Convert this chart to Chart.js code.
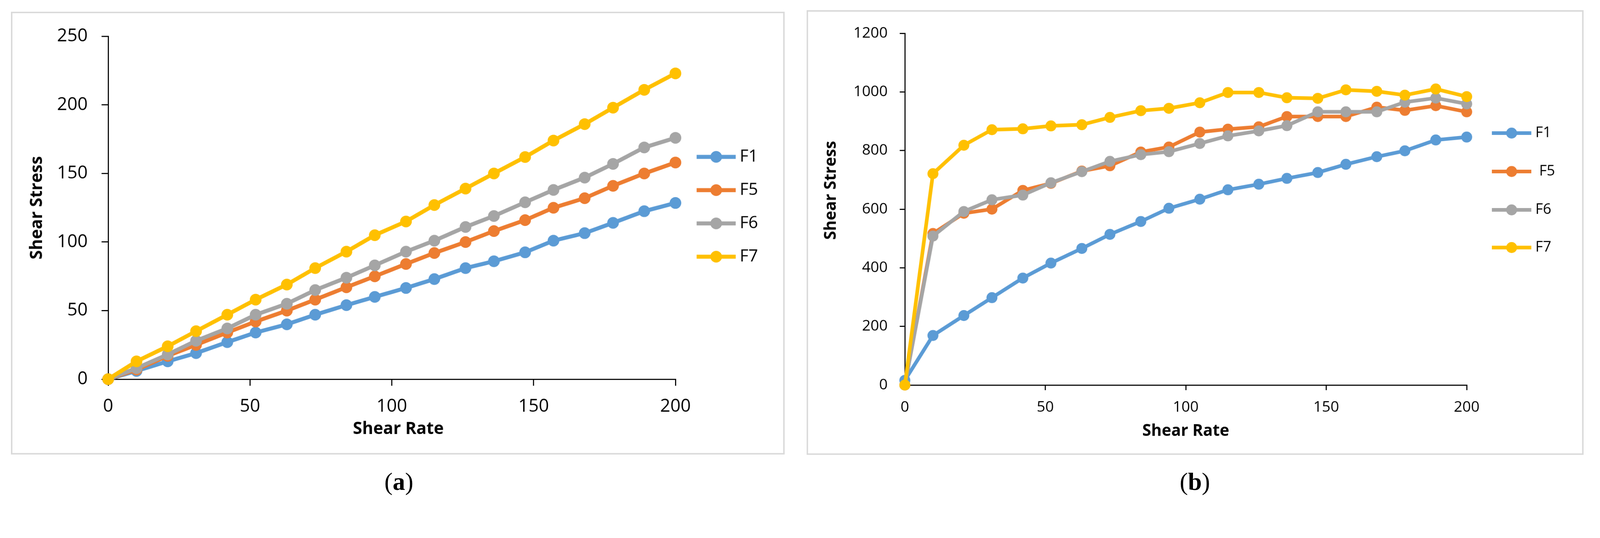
<!DOCTYPE html>
<html>
<head>
<meta charset="utf-8">
<script src="https://cdn.jsdelivr.net/npm/chart.js@4.4.1/dist/chart.umd.min.js"></script>
<style>
html,body{margin:0;padding:0;background:#fff;overflow:hidden;}
#stage{position:absolute;left:0;top:0;width:4380px;height:1376px;transform-origin:0 0;background:#fff;}
.panel{position:absolute;box-sizing:border-box;border:4px solid #d9d9d9;pointer-events:none;}
canvas{position:absolute;}
.cap{position:absolute;font-family:"Liberation Serif","DejaVu Serif",serif;font-size:68px;line-height:80px;width:200px;text-align:center;color:#000;}
.cap b{font-weight:bold;}
</style>
</head>
<body>
<div id="stage">
<canvas id="chartA" width="2118" height="1211" style="left:30px;top:32px;width:2118px;height:1211px;"></canvas>
<div class="panel" style="left:30px;top:32px;width:2118px;height:1211px;"></div>
<canvas id="chartB" width="2127" height="1216" style="left:2208px;top:28px;width:2127px;height:1216px;"></canvas>
<div class="panel" style="left:2208px;top:28px;width:2127px;height:1216px;"></div>
<div class="cap" style="left:992px;top:1277px;">(<b>a</b>)</div>
<div class="cap" style="left:3171px;top:1277px;">(<b>b</b>)</div>
</div>
<script>
// ---------- data ----------
const shearRate = [0,10,21,31,42,52,63,73,84,94,105,115,126,136,147,157,168,178,189,200];

const seriesNamesA = ['F1','F5','F6','F7'];
const seriesNamesB = ['F1',' F5','F6','F7'];

// panel (a)
const a_F1 = [0,6,13,19,27,34,40,47,54,60,66.5,73,81,86,92.5,101,106.5,114,122.5,128.5];
const a_F5 = [0,7,17,25,34,42,50,58,67,75,84,92,100,108,116,125,132,141,150,158];
const a_F6 = [0,8,18,28,37,47,55,65,74,83,93,101,111,119,129,138,147,157,169,176];
const a_F7 = [0,13,24,35,47,58,69,81,93,105,115,127,139,150,162,174,186,198,211,223];

// panel (b)
const b_F1 = [16,169,237,298,365,416,466,514,558,603,634,666,685,705,725,753,779,799,836,846];
const b_F5 = [0,517,586,600,664,688,730,748,795,812,863,873,881,916,916,916,948,937,953,932];
const b_F6 = [0,508,592,632,648,690,728,763,786,796,824,850,867,885,932,932,932,965,979,959];
const b_F7 = [0,721,818,871,874,884,888,913,936,944,963,998,998,980,978,1007,1002,989,1010,984];

// ticks
const xTicks = [0,50,100,150,200];
const yTicksA = [0,50,100,150,200,250];
const yTicksB = [0,200,400,600,800,1000,1200];

const xTitle = 'Shear Rate';
const yTitle = 'Shear Stress';

const colors = ['#5B9BD5','#ED7D31','#A5A5A5','#FFC000'];

// fit the 4380x1376 design to the actual viewport
(function(){
  const s = window.innerWidth / 4380;
  document.getElementById('stage').style.transform = 'scale(' + s + ')';
})();

// ---------- helpers ----------
function pts(ys){ return ys.map((y,i)=>({x:shearRate[i], y:y})); }

function makeDatasets(names, arrays, lw, r){
  return arrays.map((arr,i)=>({
    label: names[i],
    data: pts(arr),
    borderColor: colors[i],
    backgroundColor: colors[i],
    pointBackgroundColor: colors[i],
    pointBorderColor: colors[i],
    borderWidth: lw,
    pointRadius: r,
    pointBorderWidth: 0,
    pointHoverRadius: r,
    tension: 0,
    clip: false,
    order: arrays.length - i
  }));
}

const sideLegend = {
  id: 'sideLegend',
  afterDraw(chart, args, opts){
    const ctx = chart.ctx;
    chart.data.datasets.forEach((ds,i)=>{
      const y = opts.ys[i];
      ctx.save();
      ctx.strokeStyle = ds.borderColor;
      ctx.lineWidth = ds.borderWidth;
      ctx.beginPath();
      ctx.moveTo(opts.x0, y);
      ctx.lineTo(opts.x1, y);
      ctx.stroke();
      ctx.fillStyle = ds.backgroundColor;
      ctx.beginPath();
      ctx.arc((opts.x0+opts.x1)/2, y, ds.pointRadius, 0, Math.PI*2);
      ctx.fill();
      ctx.fillStyle = '#000';
      ctx.font = opts.font;
      ctx.textBaseline = 'middle';
      ctx.textAlign = 'left';
      ctx.fillText(ds.label, opts.textX, y);
      ctx.restore();
    });
  }
};

function makeOptions(cfg){
  return {
    responsive: false,
    animation: false,
    devicePixelRatio: 1,
    events: [],
    layout: { padding: { left: 0, top: cfg.padTop, right: cfg.padRight, bottom: 0 } },
    plugins: {
      legend: { display: false },
      tooltip: { enabled: false },
      sideLegend: cfg.legend
    },
    scales: {
      x: {
        type: 'linear',
        min: cfg.xTicks[0],
        max: cfg.xTicks[cfg.xTicks.length-1],
        afterFit: (s)=>{ s.height = cfg.xHeight; },
        afterBuildTicks: (s)=>{ s.ticks = cfg.xTicks.map(v=>({value:v})); },
        border: { display: true, color: '#000', width: cfg.axisW },
        grid: { display: true, drawOnChartArea: false, drawTicks: true, tickLength: cfg.tickLen, color: '#000', lineWidth: cfg.axisW, tickColor: '#000', tickWidth: cfg.axisW },
        ticks: { color: '#000', padding: cfg.xTickPad, maxRotation: 0, callback: (v)=>String(v), font: { family: 'Open Sans', size: cfg.tickSize } },
        title: { display: true, text: cfg.xTitle, color: '#000', font: { family: 'Open Sans', size: cfg.titleSize, weight: 'bold' }, padding: { top: 0, bottom: cfg.xTitlePad } }
      },
      y: {
        type: 'linear',
        min: cfg.yTicks[0],
        max: cfg.yTicks[cfg.yTicks.length-1],
        afterFit: (s)=>{ s.width = cfg.yWidth; },
        afterBuildTicks: (s)=>{ s.ticks = cfg.yTicks.map(v=>({value:v})); },
        border: { display: true, color: '#000', width: cfg.axisW },
        grid: { display: true, drawOnChartArea: false, drawTicks: true, tickLength: cfg.tickLen, color: '#000', lineWidth: cfg.axisW, tickColor: '#000', tickWidth: cfg.axisW },
        ticks: { color: '#000', padding: cfg.yTickPad, callback: (v)=>String(v), font: { family: 'Open Sans', size: cfg.tickSize } },
        title: { display: true, text: cfg.yTitle, color: '#000', font: { family: 'Open Sans', size: cfg.titleSize, weight: 'bold' }, padding: { top: cfg.yTitlePad, bottom: 0 } }
      }
    }
  };
}

// ---------- chart (a) ----------
new Chart(document.getElementById('chartA'), {
  type: 'line',
  data: { datasets: makeDatasets(seriesNamesA, [a_F1,a_F5,a_F6,a_F7], 11, 16) },
  options: makeOptions({
    padTop: 65, padRight: 299, xHeight: 206, yWidth: 266,
    xTicks: xTicks, yTicks: yTicksA,
    axisW: 3, tickLen: 18, tickSize: 49, titleSize: 46,
    xTickPad: 28, yTickPad: 38,
    xTitle: '   ' + xTitle, yTitle: yTitle,
    xTitlePad: 42, yTitlePad: 44,
    legend: { x0: 1877, x1: 1984, textX: 1995, ys: [397,488,579,670], font: '46px "Open Sans"' }
  }),
  plugins: [sideLegend]
});

// ---------- chart (b) ----------
new Chart(document.getElementById('chartB'), {
  type: 'line',
  data: { datasets: makeDatasets(seriesNamesB, [b_F1,b_F5,b_F6,b_F7], 10, 15) },
  options: makeOptions({
    padTop: 63, padRight: 320, xHeight: 191, yWidth: 269,
    xTicks: xTicks, yTicks: yTicksB,
    axisW: 3, tickLen: 14, tickSize: 41, titleSize: 44,
    xTickPad: 23, yTickPad: 33,
    xTitle: xTitle, yTitle: '         ' + yTitle,
    xTitlePad: 38, yTitlePad: 41,
    legend: { x0: 1876, x1: 1984, textX: 1995, ys: [336,441,546,649], font: '40px "Open Sans"' }
  }),
  plugins: [sideLegend]
});
</script>
</body>
</html>
